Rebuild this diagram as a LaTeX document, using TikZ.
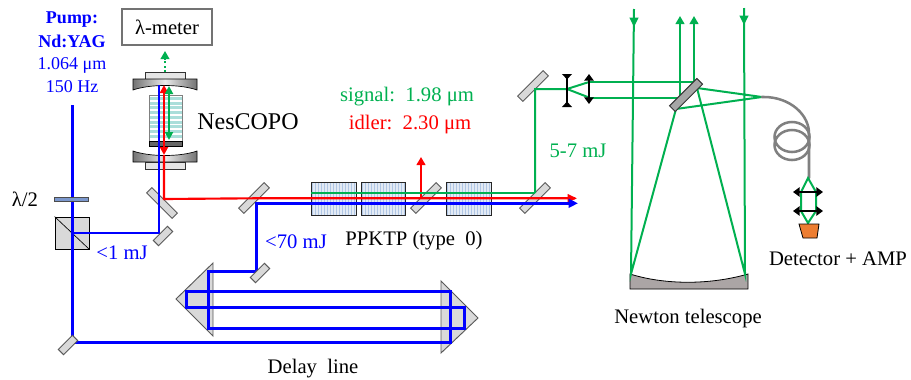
\documentclass[tikz,border=0pt]{standalone}
\usepackage{fontspec}
\setmainfont{Liberation Serif}
\usetikzlibrary{arrows.meta}
\definecolor{bluebeam}{RGB}{0,0,255}
\definecolor{redbeam}{RGB}{255,0,0}
\definecolor{greenbeam}{RGB}{0,176,80}
\definecolor{fibre}{RGB}{128,128,128}
\definecolor{mirrorfill}{RGB}{217,217,217}
\definecolor{stripe}{RGB}{176,198,228}
\definecolor{stripebg}{RGB}{226,234,245}
\definecolor{tealstripe}{RGB}{170,222,218}
\definecolor{primaryfill}{RGB}{171,165,165}
\definecolor{plate}{RGB}{124,152,205}
\definecolor{detfill}{RGB}{237,125,49}
\tikzset{
  x=0.75pt,y=-0.75pt,
  lab/.style={inner sep=0pt,font=\fontsize{15.5}{15.5}\selectfont},
  blab/.style={lab,text=bluebeam},
  bluel/.style={draw=bluebeam,line width=2.25pt,line join=miter},
  bluethin/.style={draw=bluebeam,line width=1.7pt},
  redl/.style={draw=redbeam,line width=1.6pt},
  greenl/.style={draw=greenbeam,line width=1.5pt},
  mirror/.style={draw=black!65,fill=mirrorfill,line width=0.7pt,minimum width=#1,minimum height=5.5pt,inner sep=0pt},
  mirror/.default=26pt,
  prism/.style={draw=black!65,fill=mirrorfill,line width=0.7pt},
  support/.style={draw=black!80,fill=black!10,line width=0.6pt},
  tipb/.style={-{Triangle[length=6pt,width=6.5pt]}},
  lens/.style={draw=black,line width=1.2pt,{Triangle[length=5pt,width=7pt]}-{Triangle[length=5pt,width=7pt]}},
}
\begin{document}
\begin{tikzpicture}
\useasboundingbox (0,0) rectangle (911,379);
% delay-line prisms
\path[prism] (176,299) -- (213,263) -- (213,336) -- cycle;
\path[prism] (478,318) -- (441,281) -- (441,353) -- cycle;
% polarising cube
\node[draw=black,fill=mirrorfill,line width=0.7pt,minimum width=25.5pt,minimum height=24pt,inner sep=0pt] (cube) at (72,233) {};
\draw[line width=0.5pt] (cube.north west) -- (cube.south east);
% OPO cavity
\node[support,minimum width=30pt,minimum height=5.25pt,inner sep=0pt] (topsup) at (165,75.5) {};
\node[support,minimum width=30pt,minimum height=5.25pt,inner sep=0pt] (botsup) at (165,165.5) {};
\shade[left color=black!55,right color=black!55,middle color=black!8,draw=black,line width=0.5pt]
  (133,79) -- (197,79) -- (197,90) .. controls (180,84) and (150,84) .. (133,90) -- cycle;
\shade[left color=black!55,right color=black!55,middle color=black!8,draw=black,line width=0.5pt]
  (133,162) -- (197,162) -- (197,151) .. controls (180,157) and (150,157) .. (133,151) -- cycle;
% NesCOPO crystal
\fill[white] (149,95) rectangle (182,146);
\foreach \k in {0,...,8} \fill[tealstripe] (149,{97+\k*4.7}) rectangle (182,{97+\k*4.7+3});
\draw[black!50,line width=0.6pt] (149,95) rectangle (182,146);
\fill[black!60,draw=black,line width=0.4pt] (149,141.5) rectangle (182,146);
% PPKTP crystals
\foreach \xa/\xb in {311/356,361/405,446/491}{
  \fill[stripebg] (\xa,182) rectangle (\xb,215);
  \foreach \k in {0,...,14}{
    \pgfmathsetmacro{\xs}{\xa+\k*3+0.6}
    \fill[stripe] (\xs,182) rectangle (\xs+1.5,215);
  }
  \draw[black!85,line width=0.7pt] (\xa,182) rectangle (\xb,215);
}
% mirrors under the beams
\node[mirror=27pt,rotate=-45] (m1) at (162,203) {};
\node[mirror=27pt,rotate=45] (m2) at (254,198) {};
\node[mirror=27pt,rotate=45] (m3) at (426,198) {};
\node[mirror=27pt,rotate=45] (m4) at (535,198) {};
\node[mirror=27pt,rotate=45] (m5) at (533,86) {};
% telescope primary
\path[draw=black,fill=primaryfill,line width=0.6pt]
  (630,274) .. controls (665,285) and (710,285) .. (748,274) -- (748,289) -- (630,289) -- cycle;
\coordinate (pl) at (631,274); \coordinate (pr) at (745,274);
\coordinate (sl) at (676,109); \coordinate (sr) at (697,88);
\coordinate (foc) at (762,97);
% telescope beams
\draw[greenl] (634,9) -- (pl) -- (sl) -- (foc) -- (sr) -- (pr) -- (744,8);
\draw[greenl,-{Triangle[length=7pt,width=6.5pt]}] (634,9) -- (634,27);
\draw[greenl,-{Triangle[length=7pt,width=6.5pt]}] (744,8) -- (744,25);
\draw[greenl,tipb] (680,97.5) -- (680,16);
\draw[greenl,tipb] (694,82) -- (694,16);
\draw[greenl] (589,82) -- (694,82);
\draw[greenl] (589,97.5) -- (680,97.5);
\draw[greenl] (535,193) -- (535,89) -- (567,89) -- (589,82);
\draw[greenl] (567,89) -- (589,97.5);
\node[draw=black!80,fill=black!35,line width=0.7pt,minimum width=29pt,minimum height=6pt,inner sep=0pt,rotate=45] (sec) at (686,95) {};
% telescope lenses
\draw[lens] (589,74) -- (589,104);
\draw[draw=black,line width=1.2pt,{Triangle[length=4pt,width=7.5pt,reversed]}-{Triangle[length=4pt,width=7.5pt,reversed]}] (567,74) -- (567,107);
% beams: OPO
\draw[redl,<->,>={Triangle[length=6pt,width=6pt]}] (164,85) -- (164,155);
\draw[greenbeam,line width=1.6pt,<->,>={Triangle[length=6pt,width=6pt]}] (169,86) -- (169,140);
\draw[greenbeam,line width=1.3pt,dotted,tipb] (165,72) -- (165,51);
\draw[redl] (164,155) -- (164,199) -- (254,198.3) -- (575,198.3);
\draw[redl,-{Triangle[length=7pt,width=6pt]}] (500,198.3) -- (577,198.3);
\draw[redl,tipb] (421,198) -- (421,157);
\draw[greenl] (311,192.7) -- (535,192.7);
% pump beams
\draw[bluel] (72,105) -- (72,342.5) -- (450,342.5) -- (450,291) -- (186,291) -- (186,307) -- (464,307) -- (464,328) -- (208,328) -- (208,271) -- (256,271) -- (256,203.3) -- (570,203.3);
\draw[bluel,-{Triangle[length=7pt,width=6.5pt]}] (540,203.3) -- (578,203.3);
\draw[bluethin] (72,232.7) -- (159,232.7) -- (159,85);
% turning mirrors over the beam ends
\node[mirror=15pt,rotate=45] (m6) at (163,236) {};
\node[mirror=15pt,rotate=45] (m7) at (260,273) {};
\node[mirror=15pt,rotate=45] (m8) at (68,345) {};
% half-wave plate over the beam
\node[draw=black!70,fill=plate,line width=0.6pt,minimum width=25.5pt,minimum height=3pt,inner sep=0pt] (wp) at (71,199) {};
% fibre
\draw[fibre,line width=1.9pt,line cap=round] (foc) -- (764,97) .. controls (790,97) and (810,115) .. (809,135) -- (809,178);
\draw[fibre,line width=1.9pt] (792,137) ellipse [x radius=17.5,y radius=15];
\draw[fibre,line width=1.9pt] (792,145) ellipse [x radius=17.5,y radius=15];
% detector optics
\draw[greenl] (808,178) -- (801,192) -- (801,211) -- (808,223) -- (816,211) -- (816,192) -- cycle;
\draw[lens] (793,192) -- (823,192);
\draw[lens] (793,211) -- (823,211);
\path[draw=black,fill=detfill,line width=0.6pt] (799,224) -- (819,224) -- (817,238) -- (803,238) -- cycle;
% wavemeter
\node[draw=black!55,line width=1.1pt,minimum width=67.5pt,minimum height=27pt,inner sep=0pt,font=\fontsize{15.5}{15.5}\selectfont] (meter) at (167,27) {λ-meter};
% labels
\node[blab,font=\fontsize{13.5}{13.5}\selectfont\bfseries] (t1) at (72,20) {Pump:};
\node[blab,font=\fontsize{13.5}{13.5}\selectfont\bfseries] (t2) at (72,41.5) {Nd:YAG};
\node[blab,font=\fontsize{13.5}{13.5}\selectfont] (t3) at (72,65) {1.064\ μm};
\node[blab,font=\fontsize{13.5}{13.5}\selectfont] (t4) at (72,87) {150\ Hz};
\node[lab] (t5) at (25,199) {λ/2};
\node[blab] (t6) at (122,253) {<1\ mJ};
\node[blab] (t7) at (296,242) {<70\ mJ};
\node[lab] (t8) at (414,241) {PPKTP (type\ \ 0)};
\node[lab] (t9) at (313,369) {Delay\ \ line};
\node[lab,text=greenbeam] (t10) at (407,97) {signal:\ \ 1.98\ μm};
\node[lab,text=redbeam] (t11) at (410,125) {idler:\ \ 2.30\ μm};
\node[lab,text=greenbeam] (t12) at (578,151) {5-7\ mJ};
\node[lab,font=\fontsize{18}{18}\selectfont] (t13) at (248,122) {NesCOPO};
\node[lab] (t14) at (688,319) {Newton telescope};
\node[lab] (t15) at (838,259) {Detector + AMP};
\end{tikzpicture}
\end{document}
